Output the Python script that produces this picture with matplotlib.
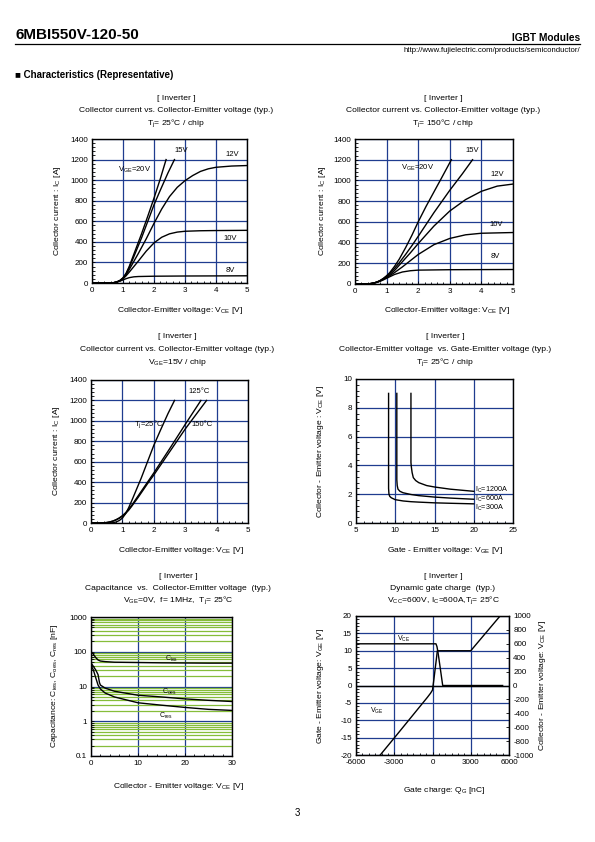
import matplotlib
matplotlib.use('Agg')
import matplotlib.pyplot as plt
from matplotlib.ticker import MultipleLocator, FixedLocator, NullFormatter

plt.rcParams['font.family'] = ['Liberation Sans', 'DejaVu Sans']
plt.rcParams['mathtext.fontset'] = 'custom'
plt.rcParams['mathtext.rm'] = 'Liberation Sans'
plt.rcParams['mathtext.it'] = 'Liberation Sans:italic'
plt.rcParams['mathtext.bf'] = 'Liberation Sans:bold'
plt.rcParams['axes.unicode_minus'] = False

# --- DATA ---
# Ic vs Vce, Tj = 25C
p1_v20_x = [0, 0.55, 0.7, 0.8, 0.9, 1.0, 1.1, 1.2, 1.3, 1.45, 1.6, 1.8, 2.0, 2.2, 2.39]
p1_v20_y = [0, 0, 3, 10, 25, 50, 95, 160, 240, 360, 480, 650, 825, 1010, 1200]
p1_v15_x = [0, 0.55, 0.7, 0.8, 0.9, 1.0, 1.1, 1.2, 1.3, 1.45, 1.6, 1.8, 2.0, 2.2, 2.45, 2.66]
p1_v15_y = [0, 0, 3, 10, 24, 48, 90, 150, 220, 330, 440, 600, 760, 900, 1070, 1200]
p1_v12_x = [0, 0.55, 0.7, 0.8, 0.9, 1.0, 1.1, 1.2, 1.35, 1.5, 1.75, 2.0, 2.25, 2.5, 2.75,
            3.0, 3.25, 3.5, 3.75, 4.0, 4.5, 5.0]
p1_v12_y = [0, 0, 3, 10, 22, 44, 80, 130, 210, 290, 430, 580, 720, 840, 930,
            995, 1045, 1085, 1110, 1125, 1137, 1142]
p1_v10_x = [0, 0.55, 0.7, 0.8, 0.9, 1.0, 1.1, 1.2, 1.35, 1.5, 1.75, 2.0, 2.25, 2.5, 2.75,
            3.0, 3.5, 4.0, 5.0]
p1_v10_y = [0, 0, 3, 10, 21, 40, 70, 105, 160, 215, 310, 390, 445, 478, 495,
            503, 508, 510, 512]
p1_v8_x = [0, 0.55, 0.7, 0.8, 0.9, 1.0, 1.1, 1.2, 1.35, 1.5, 2.0, 3.0, 5.0]
p1_v8_y = [0, 0, 3, 9, 18, 30, 42, 52, 60, 63, 66, 68, 70]

# Ic vs Vce, Tj = 150C
p2_v20_x = [0, 0.35, 0.5, 0.6, 0.7, 0.8, 0.9, 1.0, 1.1, 1.25, 1.4, 1.6, 1.8, 2.0, 2.25, 2.5, 2.75, 3.05]
p2_v20_y = [0, 0, 4, 10, 20, 35, 55, 80, 110, 170, 240, 350, 470, 600, 750, 890, 1030, 1200]
p2_v15_x = [0, 0.35, 0.5, 0.6, 0.7, 0.8, 0.9, 1.0, 1.1, 1.25, 1.4, 1.6, 1.8, 2.0, 2.5, 3.0, 3.4, 3.72]
p2_v15_y = [0, 0, 4, 10, 19, 33, 52, 75, 100, 150, 205, 285, 370, 460, 690, 905, 1065, 1200]
p2_v12_x = [0, 0.35, 0.5, 0.6, 0.7, 0.8, 0.9, 1.0, 1.1, 1.25, 1.5, 1.75, 2.0, 2.5, 3.0, 3.5,
            4.0, 4.5, 5.0]
p2_v12_y = [0, 0, 4, 10, 18, 31, 48, 68, 90, 130, 215, 300, 390, 560, 705, 815,
            895, 945, 965]
p2_v10_x = [0, 0.35, 0.5, 0.6, 0.7, 0.8, 0.9, 1.0, 1.1, 1.25, 1.5, 1.75, 2.0, 2.5, 3.0, 3.5, 4.0, 5.0]
p2_v10_y = [0, 0, 4, 10, 18, 30, 45, 62, 80, 110, 165, 225, 285, 380, 440, 475, 490, 497]
p2_v8_x = [0, 0.35, 0.5, 0.6, 0.7, 0.8, 0.9, 1.0, 1.1, 1.25, 1.5, 1.75, 2.0, 3.0, 5.0]
p2_v8_y = [0, 0, 4, 9, 16, 27, 40, 55, 70, 92, 116, 128, 134, 138, 140]

# Ic vs Vce, Vge = 15V
p3_t25_x = [0, 0.55, 0.7, 0.8, 0.9, 1.0, 1.1, 1.2, 1.3, 1.45, 1.6, 1.8, 2.0, 2.2, 2.45, 2.66]
p3_t25_y = [0, 0, 3, 10, 24, 48, 90, 150, 220, 330, 440, 600, 760, 900, 1070, 1200]
p3_t125_x = [0, 0.3, 0.5, 0.6, 0.7, 0.8, 0.9, 1.0, 1.1, 1.2, 1.3, 1.5, 1.8, 2.0, 2.5, 3.0, 3.5]
p3_t125_y = [0, 0, 5, 11, 20, 33, 50, 72, 100, 135, 175, 265, 400, 490, 725, 965, 1200]
p3_t150_x = [0, 0.3, 0.5, 0.6, 0.7, 0.8, 0.9, 1.0, 1.1, 1.2, 1.3, 1.5, 1.8, 2.0, 2.5, 3.0, 3.68]
p3_t150_y = [0, 0, 4, 10, 18, 30, 46, 66, 92, 125, 165, 250, 385, 470, 695, 920, 1200]

# Vce vs Vge, Tj = 25C
p4_i300_x = [9.15, 9.15, 9.2, 9.3, 9.5, 10, 11, 12, 13, 15, 17, 20]
p4_i300_y = [9.0, 2.4, 2.0, 1.85, 1.75, 1.62, 1.53, 1.48, 1.45, 1.40, 1.37, 1.33]
p4_i600_x = [10.2, 10.2, 10.25, 10.35, 10.6, 11, 12, 13, 15, 17, 20]
p4_i600_y = [9.0, 3.0, 2.6, 2.35, 2.2, 2.1, 1.98, 1.9, 1.8, 1.73, 1.65]
p4_i1200_x = [12.0, 12.0, 12.05, 12.15, 12.3, 12.6, 13, 14, 15, 17, 20]
p4_i1200_y = [9.0, 4.2, 3.9, 3.5, 3.15, 2.95, 2.8, 2.6, 2.5, 2.35, 2.2]

# Capacitance vs Vce
p5_cies_x = [0, 0.5, 1, 1.5, 2, 3, 5, 10, 15, 20, 25, 30]
p5_cies_y = [100, 85, 68, 58, 54, 52, 50, 49, 48, 47.5, 47, 47]
p5_coes_x = [0, 0.5, 1, 1.5, 1.8, 2, 3, 5, 10, 15, 20, 25, 30]
p5_coes_y = [48, 38, 30, 22, 13, 11, 9, 7.3, 5.6, 5.0, 4.4, 4.0, 3.7]
p5_cres_x = [0, 0.5, 1, 1.5, 2, 3, 5, 10, 15, 20, 25, 30]
p5_cres_y = [40, 30, 18, 11, 8.5, 6.5, 5.0, 3.4, 2.9, 2.5, 2.2, 2.05]

# Dynamic gate charge
p6_qg_vge = [-4100, -3000, -2000, -1000, -400, -150, 0, 100, 200, 300, 380, 3000, 5300]
p6_vge = [-20, -15.1, -10.6, -6.1, -3.4, -2.2, -1.3, 1.5, 4.5, 7.5, 10, 10, 20]
p6_qg_vce = [-6000, 270, 350, 420, 500, 600, 700, 800, 5500]
p6_vce = [600, 600, 560, 490, 390, 260, 130, 0, 0]

W, H = 595, 842
NAVY = '#1f3c8f'
GREEN = '#86bd3a'
FS = 5.8
TFS = 6.1

fig = plt.figure(figsize=(W / 100, H / 100), dpi=100)


def txt(x, y, s, ha='center', size=TFS, **kw):
    fig.text(x / W, 1 - y / H, s, ha=ha, va='center', fontsize=size, **kw)


def add_ax(l, t, r, b):
    ax = fig.add_axes([l / W, 1 - b / H, (r - l) / W, (b - t) / H])
    for s in ax.spines.values():
        s.set_linewidth(1.0)
    ax.tick_params(which='both', direction='in', labelsize=FS, width=0.6, pad=3)
    ax.tick_params(which='major', length=2.5)
    ax.tick_params(which='minor', length=1.8)
    ax.grid(True, which='major', color=NAVY, lw=0.9)
    ax.set_axisbelow(True)
    return ax


def titles(xc, y0, lines, dy):
    for i, s in enumerate(lines):
        txt(xc, y0 + i * dy, s)


# --- header ---
txt(15, 35, '6MBI550V-120-50', ha='left', size=11, fontweight='bold')
txt(580, 38, 'IGBT Modules', ha='right', size=7.3, fontweight='bold')
fig.add_artist(plt.Line2D([15 / W, 580 / W], [1 - 43.5 / H, 1 - 43.5 / H], color='black', lw=0.9))
txt(580, 50, 'http://www.fujielectric.com/products/semiconductor/', ha='right', size=5.6)
txt(15, 75, '\u25a0 Characteristics (Representative)', ha='left', size=7, fontweight='bold')
txt(297, 813, '3', size=7)

ic_label = r'Collector current : I$_{\rm C}$ [A]'
vce_label = r'Collector-Emitter voltage: V$_{\rm CE}$ [V]'
ic_title = 'Collector current vs. Collector-Emitter voltage (typ.)'


def ic_axes(ax):
    ax.set_xlim(0, 5)
    ax.set_ylim(0, 1400)
    ax.xaxis.set_major_locator(MultipleLocator(1))
    ax.xaxis.set_minor_locator(MultipleLocator(0.2))
    ax.yaxis.set_major_locator(MultipleLocator(200))
    ax.yaxis.set_minor_locator(MultipleLocator(40))


# --- plot 1 ---
ax1 = add_ax(92, 139, 247, 283)
ic_axes(ax1)
for xs, ys in [(p1_v20_x, p1_v20_y), (p1_v15_x, p1_v15_y), (p1_v12_x, p1_v12_y),
               (p1_v10_x, p1_v10_y), (p1_v8_x, p1_v8_y)]:
    ax1.plot(xs, ys, color='black', lw=1.0)
ax1.text(0.85, 1100, r'V$_{\rm GE}$=20V', fontsize=5.5, va='center')
ax1.text(2.65, 1290, '15V', fontsize=5.5, va='center')
ax1.text(4.3, 1250, '12V', fontsize=5.5, va='center')
ax1.text(4.25, 430, '10V', fontsize=5.5, va='center')
ax1.text(4.3, 125, '8V', fontsize=5.5, va='center')
titles(176, 98, ['[ Inverter ]', ic_title, r'T$_{\rm j}$= 25°C / chip'], 12.5)
txt(180, 310, vce_label)
txt(57, 211, ic_label, rotation=90)

# --- plot 2 ---
ax2 = add_ax(355, 139, 513, 284)
ic_axes(ax2)
for xs, ys in [(p2_v20_x, p2_v20_y), (p2_v15_x, p2_v15_y), (p2_v12_x, p2_v12_y),
               (p2_v10_x, p2_v10_y), (p2_v8_x, p2_v8_y)]:
    ax2.plot(xs, ys, color='black', lw=1.0)
ax2.text(1.47, 1125, r'V$_{\rm GE}$=20V', fontsize=5.5, va='center')
ax2.text(3.5, 1290, '15V', fontsize=5.5, va='center')
ax2.text(4.3, 1055, '12V', fontsize=5.5, va='center')
ax2.text(4.26, 575, '10V', fontsize=5.5, va='center')
ax2.text(4.3, 262, '8V', fontsize=5.5, va='center')
titles(443, 98, ['[ Inverter ]', ic_title, r'T$_{\rm j}$= 150°C / chip'], 12.5)
txt(447, 310, vce_label)
txt(322, 211, ic_label, rotation=90)

# --- plot 3 ---
ax3 = add_ax(91, 380, 248, 523)
ic_axes(ax3)
for xs, ys in [(p3_t25_x, p3_t25_y), (p3_t125_x, p3_t125_y), (p3_t150_x, p3_t150_y)]:
    ax3.plot(xs, ys, color='black', lw=1.0)
ax3.text(1.38, 965, r'T$_{\rm j}$=25°C', fontsize=5.5, va='center')
ax3.text(3.1, 1285, '125°C', fontsize=5.5, va='center')
ax3.text(3.2, 965, '150°C', fontsize=5.5, va='center')
titles(177, 337, ['[ Inverter ]', ic_title, r'V$_{\rm GE}$=15V / chip'], 12.5)
txt(181, 551, vce_label)
txt(56, 451, ic_label, rotation=90)

# --- plot 4 ---
ax4 = add_ax(356, 379, 513, 523)
ax4.set_xlim(5, 25)
ax4.set_ylim(0, 10)
ax4.xaxis.set_major_locator(MultipleLocator(5))
ax4.xaxis.set_minor_locator(MultipleLocator(1))
ax4.yaxis.set_major_locator(MultipleLocator(2))
ax4.yaxis.set_minor_locator(MultipleLocator(0.4))
for xs, ys in [(p4_i300_x, p4_i300_y), (p4_i600_x, p4_i600_y), (p4_i1200_x, p4_i1200_y)]:
    ax4.plot(xs, ys, color='black', lw=1.0)
ax4.text(20.2, 2.3, r'I$_{\rm C}$=1200A', fontsize=5.2, va='center')
ax4.text(20.2, 1.66, r'I$_{\rm C}$=600A', fontsize=5.2, va='center')
ax4.text(20.2, 1.02, r'I$_{\rm C}$=300A', fontsize=5.2, va='center')
titles(445, 337, ['[ Inverter ]', 'Collector-Emitter voltage  vs. Gate-Emitter voltage (typ.)',
                  r'T$_{\rm j}$= 25°C / chip'], 12.5)
txt(445, 551, r'Gate - Emitter voltage: V$_{\rm GE}$ [V]')
txt(320, 451, r'Collector - Emitter voltage : V$_{\rm CE}$ [V]', rotation=90)

# --- plot 5 ---
ax5 = add_ax(91, 617, 232, 756)
ax5.set_yscale('log')
ax5.set_xlim(0, 30)
ax5.set_ylim(0.1, 1000)
ax5.xaxis.set_major_locator(MultipleLocator(10))
ax5.xaxis.set_minor_locator(MultipleLocator(2))
ax5.yaxis.set_major_locator(FixedLocator([0.1, 1, 10, 100, 1000]))
ax5.set_yticklabels(['0.1', '1', '10', '100', '1000'])
minor_y = [m * 10.0 ** d for d in range(-1, 3) for m in range(2, 10)]
ax5.yaxis.set_minor_locator(FixedLocator(minor_y))
ax5.yaxis.set_minor_formatter(NullFormatter())
ax5.grid(True, which='minor', axis='y', color=GREEN, lw=0.9)
for xs, ys in [(p5_cies_x, p5_cies_y), (p5_coes_x, p5_coes_y), (p5_cres_x, p5_cres_y)]:
    ax5.plot(xs, ys, color='black', lw=1.0)
ax5.text(15.8, 62, r'C$_{\rm ies}$', fontsize=5, va='center')
ax5.text(15.2, 6.8, r'C$_{\rm oes}$', fontsize=5, va='center')
ax5.text(14.5, 1.43, r'C$_{\rm res}$', fontsize=5, va='center')
titles(178, 576, ['[ Inverter ]', 'Capacitance  vs.  Collector-Emitter voltage  (typ.)',
                  r'V$_{\rm GE}$=0V,  f= 1MHz,  T$_{\rm j}$= 25°C'], 12)
txt(178, 786, r'Collector - Emitter voltage: V$_{\rm CE}$ [V]')
txt(55, 686, r'Capacitance: C$_{\rm ies}$, C$_{\rm oes}$, C$_{\rm res}$ [nF]', rotation=90)

# --- plot 6 ---
ax6 = add_ax(356, 616, 509, 755)
ax6.set_xlim(-6000, 6000)
ax6.set_ylim(-20, 20)
ax6.xaxis.set_major_locator(MultipleLocator(3000))
ax6.xaxis.set_minor_locator(MultipleLocator(500))
ax6.yaxis.set_major_locator(MultipleLocator(5))
ax6.yaxis.set_minor_locator(MultipleLocator(1))
ax6.axhline(0, color='black', lw=1.0)
ax6.plot(p6_qg_vge, p6_vge, color='black', lw=1.0)
ax6b = ax6.twinx()
ax6b.set_ylim(-1000, 1000)
ax6b.yaxis.set_major_locator(MultipleLocator(200))
ax6b.tick_params(which='both', direction='in', labelsize=FS, width=0.6, length=2.5, pad=3)
ax6b.plot(p6_qg_vce, p6_vce, color='black', lw=1.0)
ax6.text(-2800, 13.4, r'V$_{\rm CE}$', fontsize=5, va='center')
ax6.text(-4900, -7.2, r'V$_{\rm GE}$', fontsize=5, va='center')
titles(443, 576, ['[ Inverter ]', 'Dynamic gate charge  (typ.)',
                  r'V$_{\rm CC}$=600V, I$_{\rm C}$=600A,T$_{\rm j}$= 25°C'], 12)
txt(444, 791, r'Gate charge: Q$_{\rm G}$ [nC]')
txt(321, 686, r'Gate - Emitter voltage: V$_{\rm GE}$ [V]', rotation=90)
txt(542, 686, r'Collector - Emitter voltage: V$_{\rm CE}$ [V]', rotation=90)

fig.savefig('out.png', dpi=100)
